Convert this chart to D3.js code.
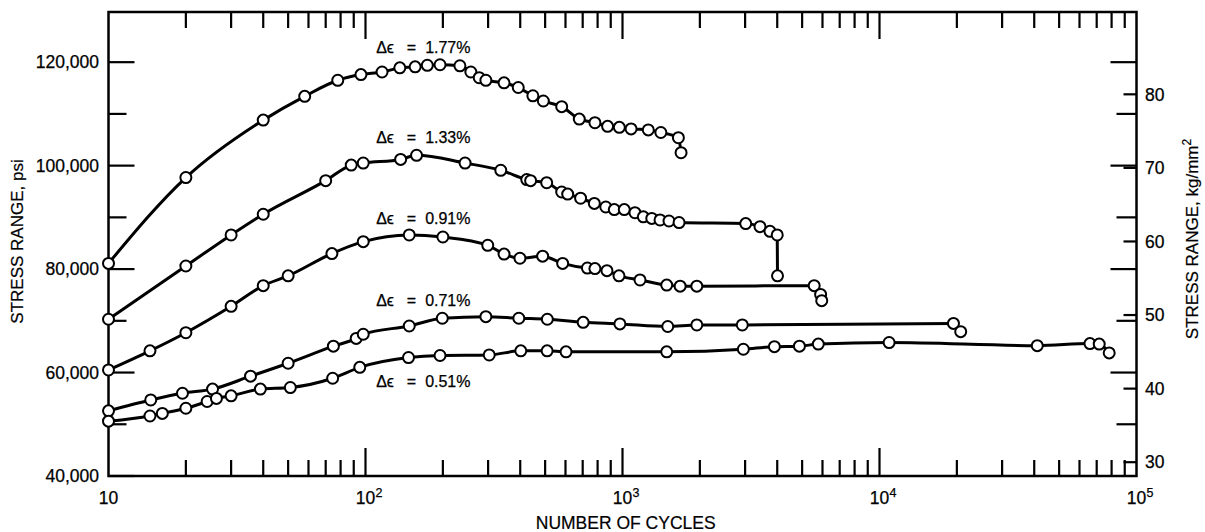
<!DOCTYPE html>
<html>
<head>
<meta charset="utf-8">
<script src="https://cdn.jsdelivr.net/npm/d3@7"></script>
<style>
  html, body { margin: 0; padding: 0; background: #fff; }
  svg { display: block; }
</style>
</head>
<body>
<svg id="chart" width="1205" height="532"></svg>
<script>
// Stress range vs. number of cycles for five constant strain ranges
const cycles177 = [10, 20, 40, 58, 78, 96, 116, 136, 156, 174, 195, 233, 257, 277, 294, 346, 393, 448, 492, 580, 679, 781, 875, 972, 1080, 1260, 1410, 1650, 1690];
const psi177    = [81100, 97700, 108800, 113400, 116500, 117600, 118100, 118900, 119100, 119400, 119500, 119300, 118100, 117000, 116500, 116000, 115100, 113500, 112500, 111400, 109000, 108300, 107600, 107400, 107100, 106900, 106400, 105400, 102500];

const cycles133 = [10, 20, 30, 40, 70, 88, 98, 137, 158, 244, 336, 424, 439, 507, 580, 612, 687, 777, 861, 929, 1016, 1118, 1205, 1300, 1400, 1517, 1660, 3016, 3428, 3748, 4000, 4010];
const psi133    = [70300, 80600, 86600, 90600, 97100, 100100, 100500, 101200, 102000, 100500, 99100, 97300, 97100, 96700, 94900, 94500, 93700, 92700, 92000, 91500, 91500, 90900, 90100, 89800, 89500, 89300, 89000, 88800, 88200, 87300, 86600, 78700];

const cycles091 = [10, 14.5, 20, 30, 40, 50, 74, 98, 148, 200, 299, 346, 399, 489, 585, 730, 781, 870, 969, 1170, 1486, 1676, 1946, 5570, 5900, 5960];
const psi091    = [60500, 64200, 67700, 72800, 76800, 78700, 83000, 85300, 86600, 86200, 84600, 82900, 82100, 82500, 81100, 80200, 80100, 79700, 78700, 77900, 76900, 76700, 76700, 76800, 75100, 73900];

const cycles071 = [10, 14.6, 19.4, 25.4, 35.7, 50, 75, 92, 98, 148, 199, 294, 395, 510, 703, 977, 1500, 1946, 2925, 19400, 20700];
const psi071    = [52600, 54700, 56000, 56800, 59300, 61800, 65100, 66600, 67400, 69000, 70500, 70800, 70500, 70300, 69700, 69400, 68900, 69200, 69200, 69500, 67900];

const cycles051 = [10, 14.5, 16.2, 20, 24.2, 26.3, 30, 39, 51, 74.5, 95, 147, 195, 303, 402, 509, 603, 1486, 2953, 3900, 4880, 5780, 10900, 41100, 65900, 71600, 78300];
const psi051    = [50600, 51600, 52100, 53100, 54400, 55000, 55500, 56800, 57100, 58900, 61000, 62900, 63300, 63400, 64200, 64200, 64000, 64000, 64500, 65000, 65100, 65500, 65800, 65200, 65600, 65500, 63800];

// Curve labels: strain range value and where each label starts (cycles, psi at baseline)
const strainValues = ["1.77%", "1.33%", "0.91%", "0.71%", "0.51%"];
const labelCycles = 110;
const labelPsi = [121700, 104400, 88800, 72900, 57300];

// Tick values
const decadeTicks = [10, 100, 1000, 10000, 100000];
const psiMajorTicks = [40000, 60000, 80000, 100000, 120000];
const psiMinorTicks = [50000, 70000, 90000, 110000];
const kgTicks = [30, 40, 50, 60, 70, 80];
const PSI_PER_KG = 1422.33;

const FONT = "'Liberation Sans', Arial, 'DejaVu Sans', sans-serif";
const plotLeft = 108.5, plotRight = 1136.5, plotTop = 12, plotBottom = 476;

const x = d3.scaleLog().domain([10, 1e5]).range([plotLeft, plotRight]);
const y = d3.scaleLinear().domain([40000, 129700]).range([plotBottom, plotTop]);
const yKg = d3.scaleLinear().domain(y.domain().map(v => v / PSI_PER_KG)).range([plotBottom, plotTop]);

const minorCycles = [];
decadeTicks.slice(0, -1).forEach(d => { for (let k = 2; k <= 9; k++) minorCycles.push(k * d); });
const innerDecades = decadeTicks.slice(1, -1);

const svg = d3.select("#chart");

// plot frame
svg.append("rect")
  .attr("x", plotLeft).attr("y", plotTop)
  .attr("width", plotRight - plotLeft).attr("height", plotBottom - plotTop)
  .attr("fill", "none").attr("stroke", "#000").attr("stroke-width", 2.5);

const tickLayer = svg.append("g").attr("stroke", "#000").attr("stroke-width", 2.2);

// vertical tick marks on a horizontal axis line (len > 0 points up)
function vTicks(values, yBase, len) {
  tickLayer.append("g").selectAll("line").data(values).join("line")
    .attr("x1", d => x(d)).attr("x2", d => x(d))
    .attr("y1", yBase).attr("y2", yBase - len);
}
// horizontal tick marks on a vertical axis line (len > 0 points right)
function hTicks(values, scale, xBase, len) {
  tickLayer.append("g").selectAll("line").data(values).join("line")
    .attr("x1", xBase).attr("x2", xBase + len)
    .attr("y1", d => scale(d)).attr("y2", d => scale(d));
}

vTicks(minorCycles, plotBottom, 16);
vTicks(innerDecades, plotBottom, 28);
vTicks(minorCycles, plotTop, -16);
vTicks(innerDecades, plotTop, -27);
hTicks(psiMajorTicks, y, plotLeft, 26);
hTicks(psiMinorTicks, y, plotLeft, 18);
hTicks(psiMajorTicks.slice(1), y, plotRight, -26);
hTicks(psiMinorTicks, y, plotRight, -20);
hTicks(kgTicks, yKg, plotRight, -13);

// tick labels
const labelLayer = svg.append("g").attr("font-family", FONT).attr("font-size", 17.5)
  .attr("fill", "#000").attr("stroke", "#000").attr("stroke-width", 0.25);

const xl = labelLayer.append("g").selectAll("g").data(decadeTicks).join("g")
  .attr("transform", d => `translate(${x(d)},${plotBottom + 27.5})`);
xl.append("text").attr("text-anchor", "middle").text("10");
xl.filter(d => d > 10).append("text")
  .attr("x", 10).attr("y", -7).attr("font-size", 12.5)
  .text(d => Math.round(Math.log10(d)));

labelLayer.append("g").selectAll("text").data(psiMajorTicks).join("text")
  .attr("x", plotLeft - 9.5).attr("y", d => y(d)).attr("dy", "0.36em")
  .attr("text-anchor", "end")
  .text(d3.format(","));

labelLayer.append("g").selectAll("text").data(kgTicks).join("text")
  .attr("x", plotRight + 8.5).attr("y", d => yKg(d)).attr("dy", "0.36em")
  .text(d => d);

// axis titles
const titleLayer = svg.append("g").attr("font-family", FONT)
  .attr("fill", "#000").attr("stroke", "#000").attr("stroke-width", 0.2);

titleLayer.append("text")
  .attr("transform", `translate(23,241.5) rotate(-90)`)
  .attr("text-anchor", "middle").attr("font-size", 17)
  .text("STRESS RANGE, psi");

const rt = titleLayer.append("text")
  .attr("transform", `translate(1198,239) rotate(-90)`)
  .attr("text-anchor", "middle").attr("font-size", 17);
rt.append("tspan").text("STRESS RANGE, kg/mm");
rt.append("tspan").attr("dy", -7).attr("font-size", 12).text("2");

titleLayer.append("text")
  .attr("x", 625.7).attr("y", 529)
  .attr("text-anchor", "middle").attr("font-size", 17.5)
  .text("NUMBER OF CYCLES");

// curves
const series = [
  { cycles: cycles177, psi: psi177 },
  { cycles: cycles133, psi: psi133 },
  { cycles: cycles091, psi: psi091 },
  { cycles: cycles071, psi: psi071 },
  { cycles: cycles051, psi: psi051 }
];

const line = d3.line()
  .x(d => x(d[0]))
  .y(d => y(d[1]))
  .curve(d3.curveMonotoneX);

series.forEach(s => {
  const pts = s.cycles.map((c, i) => [c, s.psi[i]]);
  svg.append("path")
    .attr("d", line(pts))
    .attr("fill", "none").attr("stroke", "#000")
    .attr("stroke-width", 3).attr("stroke-linejoin", "round").attr("stroke-linecap", "round");
});

series.forEach(s => {
  const pts = s.cycles.map((c, i) => [c, s.psi[i]]);
  svg.append("g").selectAll("circle").data(pts).join("circle")
    .attr("cx", d => x(d[0])).attr("cy", d => y(d[1]))
    .attr("r", 5.5)
    .attr("fill", "#fff").attr("stroke", "#000").attr("stroke-width", 2);
});

// strain range labels: "Δϵ = value"
const lab = svg.append("g").attr("font-family", FONT).attr("font-size", 16)
  .attr("fill", "#000").attr("stroke", "#000").attr("stroke-width", 0.25)
  .selectAll("text").data(strainValues).join("text")
  .attr("x", x(labelCycles))
  .attr("y", (d, i) => y(labelPsi[i]));
lab.append("tspan").text("\u0394\u03f5");
lab.append("tspan").attr("x", x(labelCycles) + 30.5).text("=");
lab.append("tspan").attr("x", x(labelCycles) + 49).text(d => d);
</script>
</body>
</html>
